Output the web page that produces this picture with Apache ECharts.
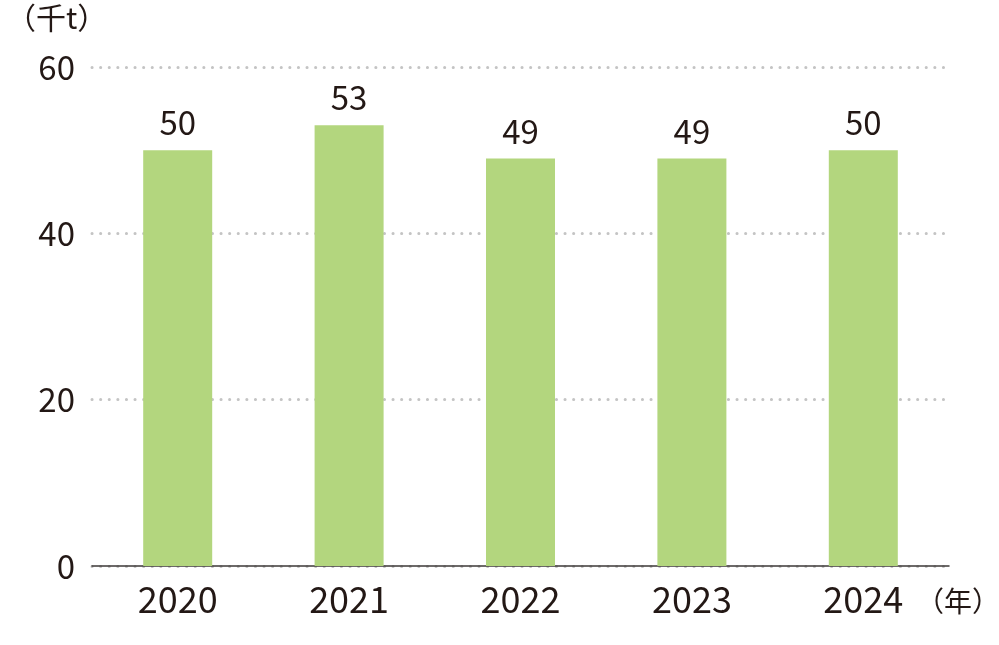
<!DOCTYPE html>
<html><head><meta charset="utf-8">
<script src="https://cdn.jsdelivr.net/npm/echarts@6/dist/echarts.min.js"></script>
<style>html,body{margin:0;padding:0;background:#fff}#c{width:999px;height:645px}</style>
</head><body><div id="c"></div>
<script>
const categories = ['2020', '2021', '2022', '2023', '2024'];
const values = [50, 53, 49, 49, 50];
const yTicks = [0, 20, 40, 60];
const yUnit = '（千t）';
const xUnit = '（年）';

const FONT = '"Noto Sans CJK JP", "Noto Sans", sans-serif';
const TXT = '#231815';
const chart = echarts.init(document.getElementById('c'), null, {renderer: 'canvas'});
chart.setOption({
  animation: false,
  backgroundColor: '#fff',
  grid: {left: 92, right: 50, top: 67, bottom: 79, containLabel: false},
  xAxis: {
    type: 'category', data: categories, boundaryGap: true,
    axisLine: {lineStyle: {color: '#3e3a39', width: 1.5}},
    axisTick: {show: false},
    axisLabel: {color: TXT, fontSize: 36, fontFamily: FONT, margin: 15}
  },
  yAxis: {
    type: 'value', min: yTicks[0], max: yTicks[yTicks.length - 1], interval: 20,
    axisLine: {show: false}, axisTick: {show: false},
    axisLabel: {color: TXT, fontSize: 33, fontFamily: FONT, margin: 17},
    splitLine: {lineStyle: {color: '#c4c4c4', width: 3, type: [0.1, 8.5], cap: 'round'}}
  },
  graphic: [
    {type: 'text', left: 6, top: 3, style: {text: yUnit, fontSize: 30, fontFamily: FONT, fill: TXT}},
    {type: 'text', left: 916, top: 587, style: {text: xUnit, fontSize: 28, fontFamily: FONT, fill: TXT}}
  ],
  series: [{
    type: 'bar', data: values, barWidth: 69,
    itemStyle: {color: '#b3d67e'},
    label: {show: true, position: 'top', distance: 11, color: TXT, fontSize: 33, fontFamily: FONT}
  }]
});
</script></body></html>
